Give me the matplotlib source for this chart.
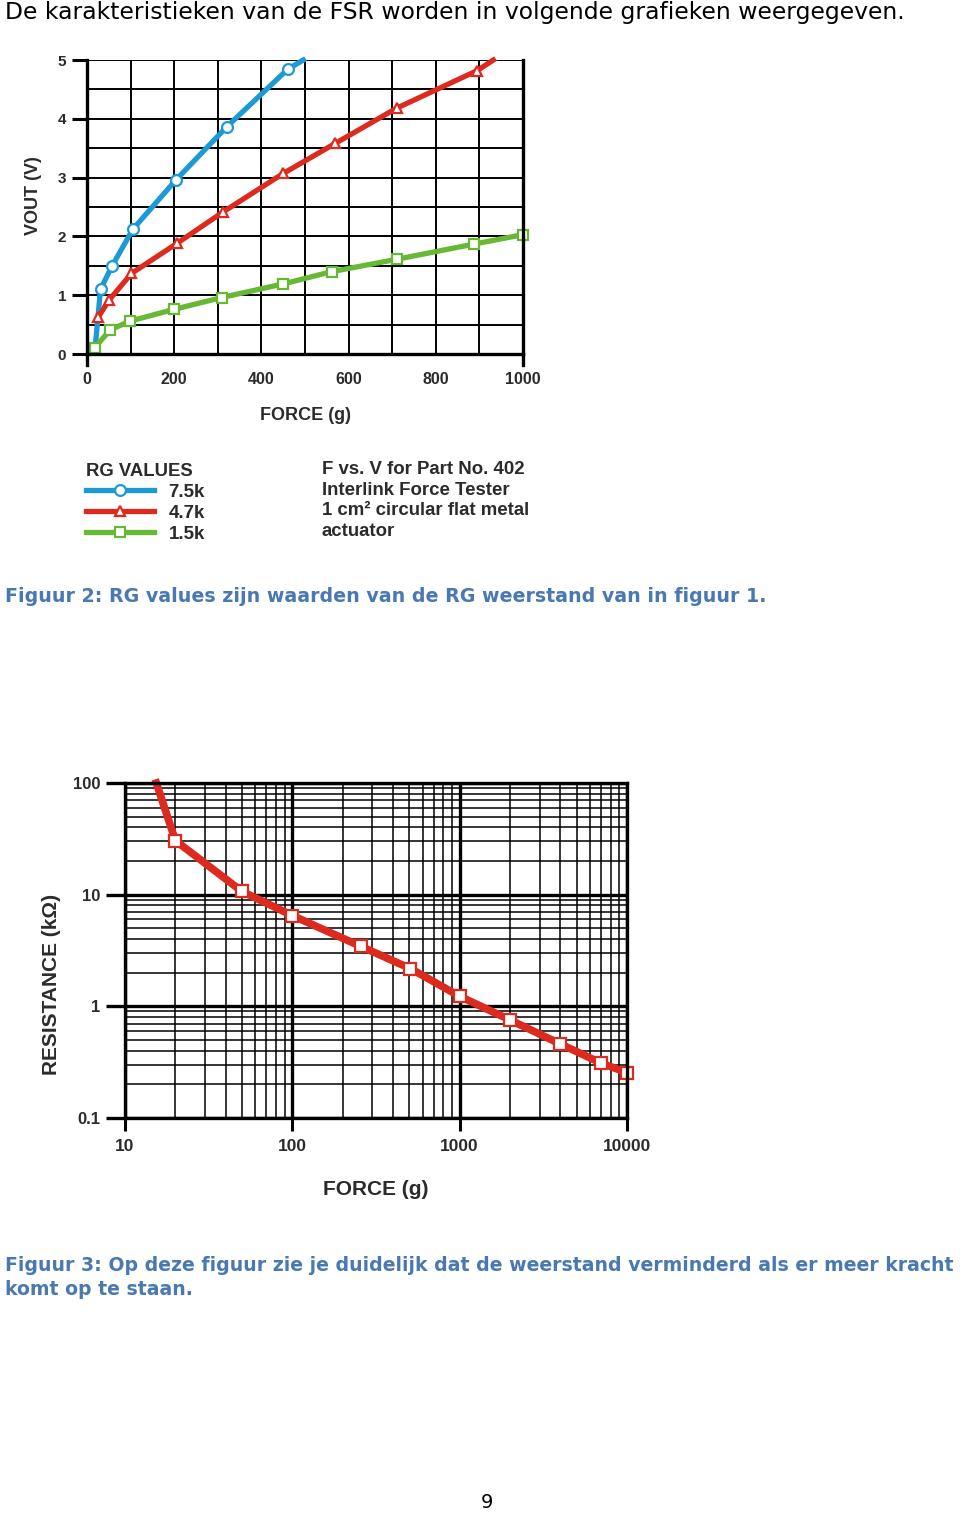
import matplotlib
matplotlib.use("Agg")
import matplotlib.pyplot as plt
from matplotlib.ticker import FixedLocator, NullFormatter, LogLocator

# figure 2: force vs vout for three RG values
blue_force = [18, 31, 57, 105, 204, 320, 460, 496]
blue_vout = [0.05, 1.10, 1.49, 2.12, 2.96, 3.86, 4.84, 5.0]
red_force = [26, 51, 102, 206, 313, 450, 569, 710, 895, 932]
red_vout = [0.63, 0.92, 1.37, 1.88, 2.42, 3.07, 3.58, 4.18, 4.82, 5.0]
green_force = [18, 53, 99, 200, 309, 449, 561, 710, 888, 1000]
green_vout = [0.11, 0.41, 0.56, 0.76, 0.96, 1.19, 1.40, 1.61, 1.87, 2.03]
rg_labels = ["7.5k", "4.7k", "1.5k"]

# figure 3: force vs resistance
res_force = [15.4, 20, 50, 100, 256, 507, 1000, 2000, 4000, 7000, 10000]
res_kohm = [100, 30.5, 10.7, 6.5, 3.45, 2.18, 1.23, 0.755, 0.46, 0.31, 0.255]
res_yticks = [0.1, 1, 10, 100]
res_ylabels = ["0.1", "1", "10", "100"]
res_xticks = [10, 100, 1000, 10000]
res_xlabels = ["10", "100", "1000", "10000"]

BLUE = "#1c9ad6"
RED = "#dd2a1e"
GREEN = "#67b835"
TXT = "#2b2b2b"
CAP = "#4a78b0"
W, H = 960, 1515

def fx(px):
    return px / W

def fy(py):
    return 1 - py / H

fig = plt.figure(figsize=(9.6, 15.15), dpi=100)
lab = dict(family="Liberation Sans", weight="bold", color=TXT)

fig.text(fx(5), fy(12), "De karakteristieken van de FSR worden in volgende grafieken weergegeven.",
         family="DejaVu Sans", fontsize=16.9, color="black", va="center")

# ---------- top chart ----------
ax = fig.add_axes([fx(87), fy(354), fx(523 - 87), (354 - 60) / H])
ax.set_xlim(0, 1000)
ax.set_ylim(0, 5)
ax.set_yticks([0, 1, 2, 3, 4, 5])
ax.set_yticks([0.5, 1.5, 2.5, 3.5, 4.5], minor=True)
ax.set_xticks(range(0, 1001, 200), [str(v) for v in range(0, 1001, 200)])
ax.set_xticks(range(0, 1001, 100), minor=True)
ax.grid(True, which="both", color="black", lw=1.4)
ax.set_axisbelow(True)
ax.tick_params(axis="x", which="both", length=0, pad=13, labelsize=11.5, labelcolor=TXT)
ax.tick_params(axis="y", which="major", length=11, width=2.2, pad=4, labelsize=11, labelcolor=TXT)
ax.tick_params(axis="y", which="minor", length=0)
for t in ax.get_xticklabels() + ax.get_yticklabels():
    t.set_fontfamily("Liberation Sans")
    t.set_fontweight("bold")
for s in ["left", "bottom", "right"]:
    ax.spines[s].set_linewidth(2.4)
ax.spines["top"].set_visible(False)
# spines at 0 and 1000 run a bit below the axis
ax.plot([0, 0], [0, -0.18], color="black", lw=2.4, clip_on=False)
ax.plot([1000, 1000], [0, -0.18], color="black", lw=2.4, clip_on=False)

mk = dict(markerfacecolor="white", markersize=7.8, markeredgewidth=1.6, lw=3.8, clip_on=False)
lb, = ax.plot(blue_force, blue_vout, color=BLUE, marker="o", markevery=list(range(1, 7)), **mk)
lr, = ax.plot(red_force, red_vout, color=RED, marker="^", markevery=list(range(0, 9)), **mk)
lg, = ax.plot(green_force, green_vout, color=GREEN, marker="s", **mk)
ax.set_xlabel("FORCE (g)", fontsize=13, labelpad=14, **lab)
ax.set_ylabel("VOUT (V)", fontsize=13, **lab)
ax.yaxis.set_label_coords(-0.103, 0.54)

leg = fig.legend([lb, lr, lg], rg_labels, loc="upper left", bbox_to_anchor=(fx(71), fy(448)),
                 frameon=False, title="RG VALUES", alignment="left", handlelength=3.65,
                 handletextpad=0.75, labelspacing=0.2, borderpad=0.3,
                 prop=dict(family="Liberation Sans", weight="bold", size=13.5),
                 title_fontproperties=dict(family="Liberation Sans", weight="bold", size=13.3))
for t in leg.get_texts():
    t.set_color(TXT)
leg.get_title().set_color(TXT)

fig.text(fx(322), fy(461), "F vs. V for Part No. 402\nInterlink Force Tester\n1 cm\u00b2 circular flat metal\nactuator",
         va="top", ha="left", fontsize=13.4, linespacing=1.27, **lab)

fig.text(fx(5), fy(596), "Figuur 2: RG values zijn waarden van de RG weerstand van in figuur 1.",
         family="DejaVu Sans", weight="bold", fontsize=13.7, color=CAP, va="center")

# ---------- bottom chart ----------
ax2 = fig.add_axes([fx(125), fy(1118), fx(627 - 125), (1118 - 783) / H])
ax2.set_xscale("log")
ax2.set_yscale("log")
ax2.set_xlim(10, 10000)
ax2.set_ylim(0.1, 100)
ax2.xaxis.set_major_locator(FixedLocator(res_xticks))
ax2.yaxis.set_major_locator(FixedLocator(res_yticks))
ax2.set_xticklabels(res_xlabels)
ax2.set_yticklabels(res_ylabels)
ax2.xaxis.set_minor_locator(LogLocator(base=10, subs=range(2, 10)))
ax2.yaxis.set_minor_locator(LogLocator(base=10, subs=range(2, 10)))
ax2.xaxis.set_minor_formatter(NullFormatter())
ax2.yaxis.set_minor_formatter(NullFormatter())
ax2.grid(True, which="major", color="black", lw=2.4)
ax2.grid(True, which="minor", color="black", lw=1.1)
ax2.set_axisbelow(True)
ax2.tick_params(which="minor", length=0)
ax2.tick_params(axis="x", which="major", length=9, width=2.2, pad=6, labelsize=12.5, labelcolor=TXT)
ax2.tick_params(axis="y", which="major", length=14, width=2.4, pad=4, labelsize=12, labelcolor=TXT)
for t in ax2.get_xticklabels() + ax2.get_yticklabels():
    t.set_fontfamily("Liberation Sans")
    t.set_fontweight("bold")
for s in ax2.spines.values():
    s.set_linewidth(2.4)
ax2.plot(res_force, res_kohm, color=RED, lw=5.5, marker="s", markevery=list(range(1, 11)),
         markerfacecolor="white", markeredgecolor=RED, markersize=9, markeredgewidth=1.6, clip_on=False)
ax2.set_xlabel("FORCE (g)", fontsize=15, labelpad=19, **lab)
ax2.set_ylabel("RESISTANCE (k\u03a9)", fontsize=15, **lab)
ax2.yaxis.set_label_coords(-0.128, 0.4)

fig.text(fx(5), fy(1256), "Figuur 3: Op deze figuur zie je duidelijk dat de weerstand verminderd als er meer kracht\nkomt op te staan.",
         family="DejaVu Sans", weight="bold", fontsize=13.55, color=CAP, va="top", linespacing=1.36)

fig.text(fx(487), fy(1502), "9", family="DejaVu Sans", fontsize=14, color="black", ha="center", va="center")

fig.savefig("out.png", dpi=100)
